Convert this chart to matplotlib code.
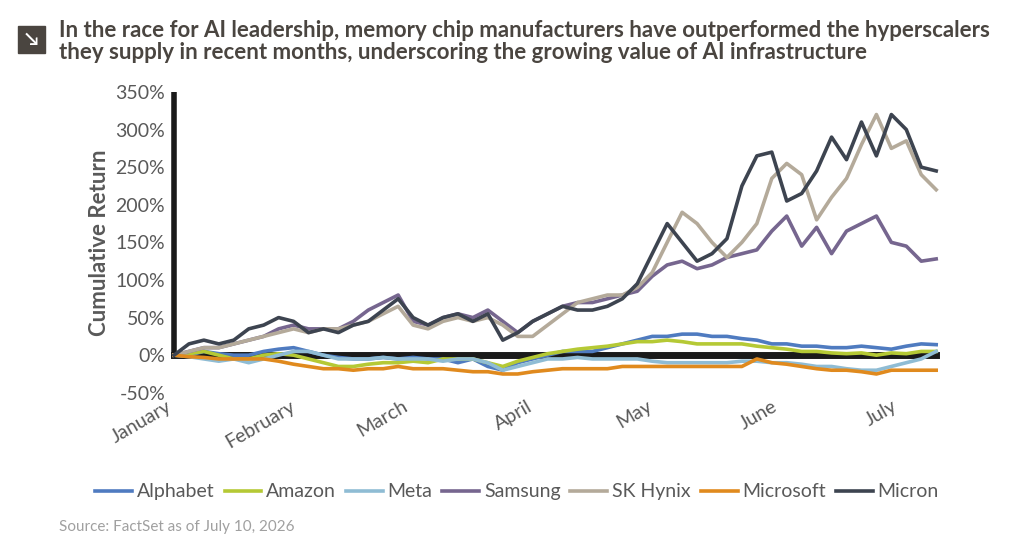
import matplotlib
matplotlib.use("Agg")
import matplotlib.pyplot as plt
import pandas as pd

plt.rcParams["font.family"] = ["Lato", "DejaVu Sans"]

dates = pd.date_range("2026-01-01", "2026-07-10", periods=52)

alphabet = [0, 0, 5, 2, 0, 0, 5, 8, 10, 5, 0, -3, -5, -5, -3, -5, -3, -5, -5, -10,
            -5, -15, -20, -10, -5, 0, 5, 5, 5, 10, 15, 20, 25, 25, 28, 28, 25, 25, 22, 20,
            15, 15, 12, 12, 10, 10, 12, 10, 8, 12, 15, 14]
amazon = [0, 2, 5, 0, -5, -5, 0, 2, 0, -5, -10, -15, -15, -12, -10, -10, -8, -10, -5, -5,
          -5, -10, -15, -8, -3, 2, 5, 8, 10, 12, 15, 18, 18, 20, 18, 15, 15, 15, 15, 12,
          10, 8, 5, 5, 3, 2, 3, 0, 3, 2, 5, 5]
meta = [0, -2, -5, -8, -5, -10, -5, 0, 5, 5, 0, -5, -5, -5, -3, -5, -5, -5, -8, -5,
        -5, -10, -20, -15, -10, -5, -5, -3, -5, -5, -5, -5, -8, -10, -10, -10, -10, -10, -8, -8,
        -10, -10, -12, -15, -15, -18, -20, -20, -15, -10, -5, 5]
samsung = [0, 5, 10, 10, 15, 20, 25, 35, 40, 35, 35, 35, 45, 60, 70, 80, 45, 40, 50, 55,
           50, 60, 45, 30, 45, 55, 65, 70, 70, 75, 80, 85, 105, 120, 125, 115, 120, 130, 135, 140,
           165, 185, 145, 170, 135, 165, 175, 185, 150, 145, 125, 128]
sk_hynix = [0, 5, 10, 10, 15, 20, 25, 30, 35, 30, 35, 35, 40, 45, 55, 65, 40, 35, 45, 50,
            45, 50, 40, 25, 25, 40, 55, 70, 75, 80, 80, 90, 110, 150, 190, 175, 150, 130, 150, 175,
            235, 255, 240, 180, 210, 235, 280, 320, 275, 285, 240, 220]
microsoft = [0, -2, -3, -5, -5, -5, -5, -8, -12, -15, -18, -18, -20, -18, -18, -15, -18, -18, -18, -20,
             -22, -22, -25, -25, -22, -20, -18, -18, -18, -18, -15, -15, -15, -15, -15, -15, -15, -15, -15, -5,
             -10, -12, -15, -18, -20, -20, -22, -25, -20, -20, -20, -20]
micron = [0, 15, 20, 15, 20, 35, 40, 50, 45, 30, 35, 30, 40, 45, 60, 75, 50, 40, 50, 55,
          45, 55, 20, 30, 45, 55, 65, 60, 60, 65, 75, 95, 135, 175, 150, 125, 135, 155, 225, 265,
          270, 205, 215, 245, 290, 260, 310, 265, 320, 300, 250, 245]

series = [
    ("Alphabet", alphabet, "#4f7bc0"),
    ("Amazon", amazon, "#b5c935"),
    ("Meta", meta, "#8fbcd4"),
    ("Samsung", samsung, "#76668f"),
    ("SK Hynix", sk_hynix, "#b4aa9a"),
    ("Microsoft", microsoft, "#e08a1e"),
    ("Micron", micron, "#3d4450"),
]
month_labels = ["January", "February", "March", "April", "May", "June", "July"]
month_ticks = pd.date_range("2026-01-01", "2026-07-01", freq="MS")

GREY = "#595959"
fig = plt.figure(figsize=(10.24, 5.54), dpi=100)
ax = fig.add_axes([0.166, 0.291, 0.76, 0.543])

ax.plot([dates[0], dates[-1]], [0, 0], color="#1a1a1a", lw=5, zorder=1)
ax.plot([dates[0], dates[0]], [0, 350], color="#1a1a1a", lw=4, zorder=1)
for name, vals, col in series:
    ax.plot(dates, vals, color=col, lw=2.6, label=name, zorder=2)

ax.set_ylim(-50, 350)
ax.set_xlim(dates[0] - pd.Timedelta(days=1), dates[-1] + pd.Timedelta(days=3))
ax.set_yticks(range(-50, 351, 50))
ax.set_yticklabels([f"{v}%" for v in range(-50, 351, 50)], fontsize=14, color=GREY)
ax.set_xticks(month_ticks)
ax.set_xticklabels(month_labels, rotation=30, ha="right", fontsize=14, color=GREY)
ax.tick_params(length=0)
for s in ax.spines.values():
    s.set_visible(False)
ax.set_ylabel("Cumulative Return", fontsize=16, color=GREY, fontweight="bold")

fig.legend(loc="center", bbox_to_anchor=(0.505, 0.112), ncol=7, frameon=False,
           fontsize=14, handlelength=1.9, columnspacing=0.5, handletextpad=0.25,
           labelcolor=GREY)

fig.patches.append(plt.Rectangle((0.018, 0.905), 0.026, 0.048, transform=fig.transFigure,
                                 color="#4a4540"))
fig.text(0.031, 0.929, "↘", color="white", fontsize=13, ha="center", va="center",
         fontweight="bold")
fig.text(0.058, 0.893,
         "In the race for AI leadership, memory chip manufacturers have outperformed the hyperscalers\n"
         "they supply in recent months, underscoring the growing value of AI infrastructure",
         fontsize=16, fontweight="bold", color="#4a4540", linespacing=1.1)
fig.text(0.058, 0.042, "Source: FactSet as of July 10, 2026", fontsize=11, color="#a0a0a0")

fig.savefig("out.png", dpi=100)
